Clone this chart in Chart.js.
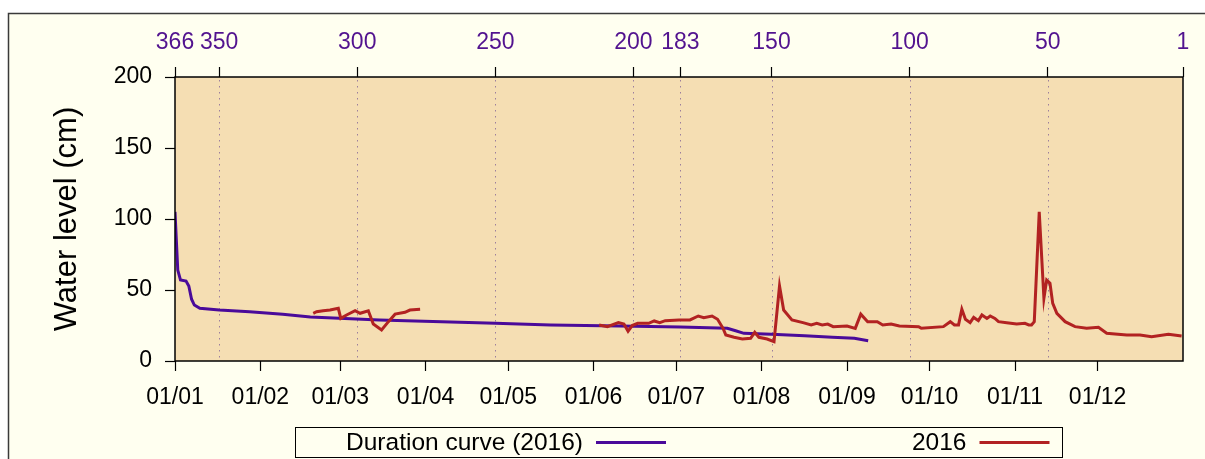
<!DOCTYPE html>
<html>
<head>
<meta charset="utf-8">
<title>Water level 2016</title>
<script src="https://cdn.jsdelivr.net/npm/chart.js@4/dist/chart.umd.min.js"></script>
<style>
html, body { margin: 0; padding: 0; background: #fff; }
#wrap { width: 1205px; height: 459px; position: relative; }
</style>
</head>
<body>
<div id="wrap"><canvas id="myChart"></canvas></div>
<script>
// bottom axis: day of year at the start of each month (2016 is a leap year)
const monthStarts = [0, 31, 60, 91, 121, 152, 182, 213, 244, 274, 305, 335];
const monthLabels = ['01/01', '01/02', '01/03', '01/04', '01/05', '01/06',
                     '01/07', '01/08', '01/09', '01/10', '01/11', '01/12'];

// top axis: exceedance rank in days
const rankTicks = [366, 350, 300, 250, 200, 183, 150, 100, 50, 1];

// duration curve (rank -> water level, cm)
const durRank  = [366, 365, 364, 362, 361, 360, 359, 357, 350, 339, 327, 317, 292,
                  250, 230, 205, 183, 166, 163, 160, 150, 138, 128, 120, 115];
const durLevel = [105, 64, 57, 56.3, 52.8, 43.5, 39.4, 37.1, 35.9, 34.7, 33, 31, 28.9,
                  26.5, 25.4, 24.6, 24, 23, 21.3, 19.5, 18.8, 17.8, 16.7, 16, 14.3];

// 2016 observations (day of year -> water level, cm); null marks the data gap
const obsDay = [
  50.2, 51.4, 53.8, 56.3, 59.3, 60.2, 62.3, 65.4, 67.2, 70.2, 72, 75, 77.5, 79.9, 83.5, 85.3, 89,
  120,
  154, 157, 161, 163, 164.5, 166, 168, 172, 174, 176, 178, 183, 187, 190, 192, 195, 197, 199,
  200, 203, 206, 209, 210.5, 212, 215, 217.5, 219.5, 221, 224, 228, 231, 233, 235, 237, 239,
  244, 247, 249, 251.5, 255, 257, 260, 263, 270, 271, 279, 281.5, 283, 284.5, 285.7, 287,
  288.7, 290, 291.7, 293, 294.8, 296, 297.7, 299, 302, 305.6, 308.6, 310, 311, 312, 313.8,
  315.5, 316.5, 317.7, 318.7, 320.2, 323.2, 326.8, 331, 335.3, 338.3, 341.3, 345.6, 350.4,
  354.6, 360.7, 365.5
];
const obsLevel = [
  33.6, 34.7, 35.4, 35.9, 37.1, 30, 32.4, 35.4, 33.6, 35.4, 26, 21.8, 27.7, 33, 34.3, 35.9, 36.4,
  null,
  25.4, 24.2, 27, 26, 21, 25, 26.5, 26.5, 28.2, 27, 28.4, 28.9, 28.9, 31.7, 30.5, 31.7, 29.4, 23,
  18.3, 16.7, 15.5, 16, 20.2, 16.7, 15.5, 13.6, 52.8, 35.9, 28.9, 27, 25.4, 26.5, 25.4, 26, 24.2,
  24.6, 23, 33, 27.7, 27.7, 25.4, 26, 24.6, 24.2, 23, 24.2, 27.7, 25.4, 25.4, 36.4, 29.4,
  27, 30.7, 28.4, 32.4, 30, 31.7, 30, 27.7, 27, 26, 26.5, 25.4, 25.4, 27.7, 105,
  44.2, 57, 54.7, 40.6, 33.6, 27.7, 24.2, 23, 23.7, 19.5, 19, 18.3, 18.3,
  17.1, 18.8, 17.6
];

const PURPLE = '#4a0a9a';
const RED = '#b22222';

Chart.defaults.font.family = "'Liberation Sans', Arial, sans-serif";
Chart.defaults.color = '#000';

// page frame, plot background, dotted rank lines, plot border and key box
const frame = {
  id: 'frame',
  beforeDraw(chart) {
    const {ctx, chartArea: a, width, height} = chart;
    ctx.save();
    ctx.fillStyle = '#ffffff';
    ctx.fillRect(0, 0, width, height);
    ctx.fillStyle = '#fffff0';
    ctx.fillRect(8, 13, width - 8, height - 13);
    ctx.strokeStyle = '#3a3a3a';
    ctx.lineWidth = 1.5;
    ctx.beginPath();
    ctx.moveTo(8.5, height);
    ctx.lineTo(8.5, 13.5);
    ctx.lineTo(width, 13.5);
    ctx.stroke();

    ctx.fillStyle = '#f5deb3';
    ctx.fillRect(a.left, a.top, a.right - a.left, a.bottom - a.top);

    const top = chart.scales.x2;
    ctx.strokeStyle = 'rgba(125,95,150,0.75)';
    ctx.lineWidth = 1;
    ctx.setLineDash([1.5, 4.5]);
    top.ticks.forEach(t => {
      if (t.value === 366 || t.value === 1) return;
      const x = Math.round(top.getPixelForValue(t.value)) + 0.5;
      ctx.beginPath();
      ctx.moveTo(x, a.top + 3);
      ctx.lineTo(x, a.bottom);
      ctx.stroke();
    });
    ctx.restore();
  },
  afterDraw(chart) {
    const {ctx, chartArea: a} = chart;
    ctx.save();
    ctx.strokeStyle = '#000';
    ctx.lineWidth = 1.5;
    ctx.strokeRect(a.left, a.top, a.right - a.left, a.bottom - a.top);

    // key
    const lx = 295.5, ly = 427.5, lw = 767, lh = 30;
    ctx.lineWidth = 1;
    ctx.strokeRect(lx, ly, lw, lh);
    ctx.font = "24.5px 'Liberation Sans', Arial, sans-serif";
    ctx.textAlign = 'right';
    ctx.textBaseline = 'middle';
    const n = chart.data.datasets.length;
    chart.data.datasets.forEach((ds, i) => {
      const colRight = lx + lw * (i + 1) / n;
      const x2 = colRight - 13, x1 = x2 - 70;
      const y = ly + lh / 2;
      ctx.fillStyle = '#000';
      ctx.fillText(ds.label, x1 - 13, y + 1);
      ctx.strokeStyle = ds.borderColor;
      ctx.lineWidth = 3;
      ctx.beginPath();
      ctx.moveTo(x1, y);
      ctx.lineTo(x2, y);
      ctx.stroke();
    });
    ctx.restore();
  }
};

let myChart;

function drawChart() {
  const config = {
    type: 'line',
    data: {
      datasets: [
        {
          label: 'Duration curve (2016)',
          xAxisID: 'x2',
          borderColor: PURPLE,
          backgroundColor: PURPLE,
          borderWidth: 3,
          pointRadius: 0,
          order: 1,
          data: durRank.map((r, i) => ({x: r, y: durLevel[i]}))
        },
        {
          label: '2016',
          xAxisID: 'x',
          borderColor: RED,
          backgroundColor: RED,
          borderWidth: 3,
          pointRadius: 0,
          spanGaps: false,
          order: 0,
          data: obsDay.map((d, i) => ({x: d, y: obsLevel[i]}))
        }
      ]
    },
    options: {
      animation: false,
      responsive: true,
      maintainAspectRatio: false,
      devicePixelRatio: 1,
      layout: { padding: { left: 0, top: 0, right: 22, bottom: 0 } },
      plugins: { legend: { display: false }, tooltip: { enabled: false } },
      scales: {
        x: {
          type: 'linear',
          position: 'bottom',
          min: 0,
          max: 366,
          afterBuildTicks: s => { s.ticks = monthStarts.map(v => ({value: v})); },
          afterFit: s => { s.height = 98; },
          ticks: {
            autoSkip: false,
            maxRotation: 0,
            minRotation: 0,
            padding: 13,
            font: { size: 23 },
            color: '#000',
            callback: v => monthLabels[monthStarts.indexOf(v)]
          },
          grid: { drawOnChartArea: false, tickLength: 10, tickColor: '#000', tickWidth: 1.2 },
          border: { display: false }
        },
        x2: {
          type: 'linear',
          position: 'top',
          min: 1,
          max: 366,
          reverse: true,
          afterBuildTicks: s => { s.ticks = rankTicks.map(v => ({value: v})); },
          afterFit: s => { s.height = 77; },
          ticks: {
            autoSkip: false,
            maxRotation: 0,
            minRotation: 0,
            padding: 11,
            font: { size: 23 },
            color: '#52138f',
            callback: v => String(v)
          },
          grid: { drawOnChartArea: false, tickLength: 10, tickColor: '#000', tickWidth: 1.2 },
          border: { display: false }
        },
        y: {
          min: 0,
          max: 200,
          afterFit: s => { s.width = 175; },
          ticks: { stepSize: 50, padding: 13, font: { size: 23 }, color: '#000' },
          grid: { drawOnChartArea: false, tickLength: 10, tickColor: '#000', tickWidth: 1.2 },
          border: { display: false },
          title: {
            display: true,
            text: 'Water level (cm)',
            color: '#000',
            font: { size: 31 },
            padding: { top: 49, bottom: 0 }
          }
        }
      }
    },
    plugins: [frame]
  };

  if (typeof myChart == 'object') {
    myChart.destroy();
  }
  myChart = new Chart(document.getElementById('myChart'), config);
}

drawChart();
</script>
</body>
</html>
